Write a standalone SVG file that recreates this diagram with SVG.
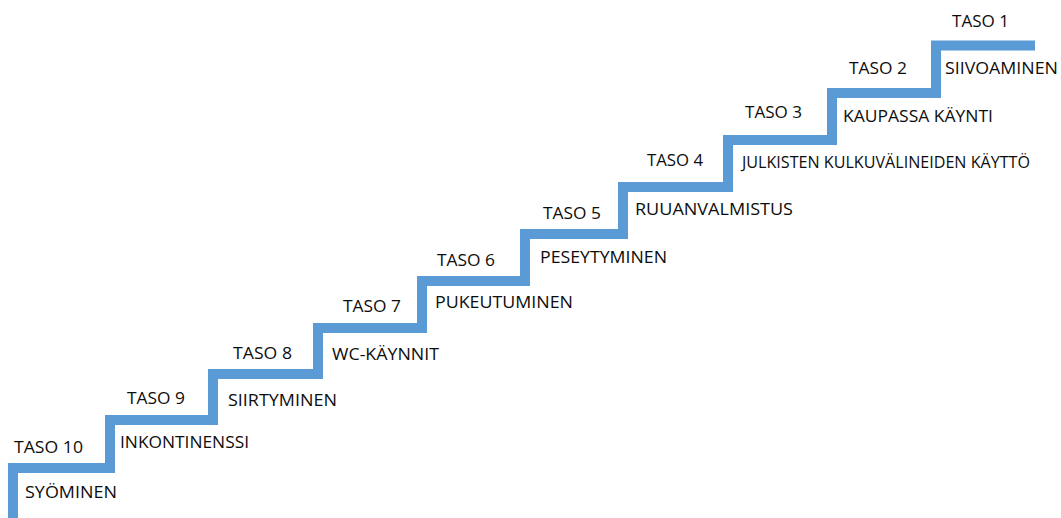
<svg xmlns="http://www.w3.org/2000/svg" width="1061" height="518" viewBox="0 0 1061 518">
<style>
text{font-family:"Open Sans","Liberation Sans",sans-serif;font-size:16.8px;fill:#0d0d0d;}
.stair{fill:none;stroke:#5b9bd5;stroke-width:10;stroke-linejoin:miter;stroke-linecap:butt;}
</style>
<rect width="1061" height="518" fill="#ffffff"/>
<g id="connectors">
<path class="stair" d="M13,518 V468 H110 V420 H213 V374 H318 V328 H422 V281 H525 V234 H623 V187 H728 V140 H832 V93 H936 V45.5 H1035"/>
</g>
<g id="taso10"><text x="14" y="453" textLength="69" lengthAdjust="spacingAndGlyphs">TASO 10</text><text x="25" y="498" textLength="92" lengthAdjust="spacingAndGlyphs">SYÖMINEN</text></g>
<g id="taso9"><text x="127" y="404" textLength="58" lengthAdjust="spacingAndGlyphs">TASO 9</text><text x="120" y="448" textLength="129" lengthAdjust="spacingAndGlyphs">INKONTINENSSI</text></g>
<g id="taso8"><text x="233" y="359" textLength="59" lengthAdjust="spacingAndGlyphs">TASO 8</text><text x="228" y="406" textLength="109" lengthAdjust="spacingAndGlyphs">SIIRTYMINEN</text></g>
<g id="taso7"><text x="343" y="312" textLength="58" lengthAdjust="spacingAndGlyphs">TASO 7</text><text x="332" y="360" textLength="107" lengthAdjust="spacingAndGlyphs">WC-KÄYNNIT</text></g>
<g id="taso6"><text x="437" y="266" textLength="58" lengthAdjust="spacingAndGlyphs">TASO 6</text><text x="435" y="308" textLength="138" lengthAdjust="spacingAndGlyphs">PUKEUTUMINEN</text></g>
<g id="taso5"><text x="543" y="219" textLength="58" lengthAdjust="spacingAndGlyphs">TASO 5</text><text x="540" y="263" textLength="127" lengthAdjust="spacingAndGlyphs">PESEYTYMINEN</text></g>
<g id="taso4"><text x="647" y="166" textLength="56" lengthAdjust="spacingAndGlyphs">TASO 4</text><text x="635" y="215" textLength="158" lengthAdjust="spacingAndGlyphs">RUUANVALMISTUS</text></g>
<g id="taso3"><text x="745" y="118" textLength="57" lengthAdjust="spacingAndGlyphs">TASO 3</text><text x="742" y="168" textLength="288" lengthAdjust="spacingAndGlyphs">JULKISTEN KULKUVÄLINEIDEN KÄYTTÖ</text></g>
<g id="taso2"><text x="849" y="74" textLength="58" lengthAdjust="spacingAndGlyphs">TASO 2</text><text x="843" y="122" textLength="150" lengthAdjust="spacingAndGlyphs">KAUPASSA KÄYNTI</text></g>
<g id="taso1"><text x="952" y="27" textLength="57" lengthAdjust="spacingAndGlyphs">TASO 1</text><text x="945" y="74" textLength="113" lengthAdjust="spacingAndGlyphs">SIIVOAMINEN</text></g>
</svg>
